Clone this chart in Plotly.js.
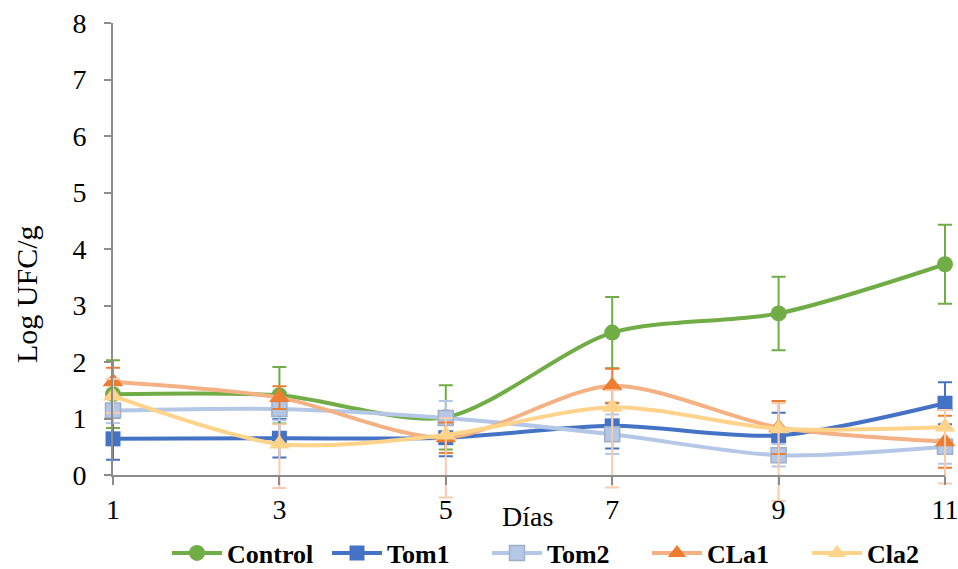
<!DOCTYPE html>
<html>
<head>
<meta charset="utf-8">
<script src="https://cdn.plot.ly/plotly-3.0.1.min.js"></script>
<style>html,body{margin:0;padding:0;background:#fff;}#chart{width:958px;height:569px;}</style>
</head>
<body>
<div id="chart"></div>
<script>
const days = [1, 3, 5, 7, 9, 11];
const xTicks = [1, 3, 5, 7, 9, 11];
const yTicks = [0, 1, 2, 3, 4, 5, 6, 7, 8];

const control = [1.43, 1.41, 1.02, 2.52, 2.86, 3.73];
const controlErr = [0.60, 0.50, 0.57, 0.63, 0.65, 0.70];

const tom1 = [0.64, 0.65, 0.66, 0.87, 0.70, 1.27];
const tom1Err = [0.37, 0.34, 0.33, 0.40, 0.40, 0.37];

const tom2 = [1.14, 1.17, 1.01, 0.72, 0.35, 0.50];
const tom2Err = [0.22, 0.20, 0.30, 0.35, 0.20, 0.30];

const cla1 = [1.65, 1.37, 0.66, 1.58, 0.84, 0.59];
const cla1Err = [0.25, 0.20, 0.27, 0.30, 0.47, 0.46];

const cla2 = [1.40, 0.55, 0.71, 1.20, 0.82, 0.85];
const cla2ErrPlus = [0.30, 0.35, 0.30, 0.30, 0.45, 0.30];
const cla2ErrMinus = [0.30, 0.78, 1.11, 1.42, 1.28, 1.00];

const names = ['Control', 'Tom1', 'Tom2', 'CLa1', 'Cla2'];

function errSym(arr, color) {
  return {type: 'data', array: arr, visible: true, color: color, thickness: 2, width: 7};
}

const traces = [
  // frame subplot holder (transparent) so the axis frame x2/y2 is drawn
  {x: days, y: control, xaxis: 'x2', yaxis: 'y2', mode: 'markers', type: 'scatter',
   marker: {opacity: 0}, showlegend: false, hoverinfo: 'skip'},
  {x: days, y: control, name: names[0], mode: 'lines+markers', type: 'scatter',
   line: {color: '#70AD47', width: 4, shape: 'spline', smoothing: 0.8},
   marker: {symbol: 'circle', size: 16, color: '#70AD47'},
   error_y: errSym(controlErr, '#70AD47'), cliponaxis: false},
  {x: days, y: tom1, name: names[1], mode: 'lines+markers', type: 'scatter',
   line: {color: '#4472C4', width: 4, shape: 'spline', smoothing: 0.8},
   marker: {symbol: 'square', size: 15, color: '#4472C4'},
   error_y: errSym(tom1Err, '#4472C4'), cliponaxis: false},
  {x: days, y: tom2, name: names[2], mode: 'lines+markers', type: 'scatter',
   line: {color: '#B4C7E7', width: 4, shape: 'spline', smoothing: 0.8},
   marker: {symbol: 'square', size: 15, color: '#B4C7E7', line: {color: '#9FAFC8', width: 1.5}},
   error_y: errSym(tom2Err, '#B4C7E7'), cliponaxis: false},
  {x: days, y: cla1, name: names[3], mode: 'lines+markers', type: 'scatter',
   line: {color: '#F4B183', width: 4, shape: 'spline', smoothing: 0.8},
   marker: {symbol: 'triangle-up', size: 18, color: '#ED7D31'},
   error_y: errSym(cla1Err, '#ED7D31'), cliponaxis: false},
  {x: days, y: cla2, name: names[4], mode: 'lines+markers', type: 'scatter',
   line: {color: '#FFD38A', width: 4, shape: 'spline', smoothing: 0.8},
   marker: {symbol: 'triangle-up', size: 18, color: '#FFD38A'},
   error_y: {type: 'data', symmetric: false, array: cla2ErrPlus, arrayminus: cla2ErrMinus,
             visible: true, color: '#F8CBAD', thickness: 2, width: 7}, cliponaxis: false}
];

const serif = 'Liberation Serif';
const FW = 958, FH = 569;
// visible frame (pixels): x=1 -> 113, x=11 -> 945 ; y=0 -> 475, y=8 -> 23
const X0 = 113, X1 = 945, Y0 = 475, Y1 = 23;
const pxX = (X1 - X0) / 10, pxY = (Y0 - Y1) / 8;
const xr = [0.85, 11.15], yr = [-0.6, 8.2];
const dataLeft = X0 - (1 - xr[0]) * pxX, dataRight = X1 + (xr[1] - 11) * pxX;
const dataBottom = Y0 + (0 - yr[0]) * pxY, dataTop = Y1 - (yr[1] - 8) * pxY;

const axisStyle = {
  showgrid: false, zeroline: false, showline: true, linecolor: '#8C8C8C', linewidth: 2,
  ticks: 'outside', tickwidth: 2, tickcolor: '#8C8C8C', ticklabeloverflow: 'allow',
  tickfont: {family: serif, size: 28, color: '#000'}
};

const layout = {
  width: FW, height: FH,
  font: {family: serif, size: 28, color: '#000'},
  margin: {l: 0, r: 0, t: 0, b: 0, pad: 0, autoexpand: false},
  paper_bgcolor: '#ffffff', plot_bgcolor: 'rgba(0,0,0,0)',
  showlegend: true,
  xaxis: {domain: [dataLeft / FW, dataRight / FW], range: xr, visible: false, anchor: 'y'},
  yaxis: {domain: [1 - dataBottom / FH, 1 - dataTop / FH], range: yr, visible: false, anchor: 'x'},
  xaxis2: Object.assign({}, axisStyle, {
    domain: [X0 / FW, X1 / FW], range: [1, 11], anchor: 'y2',
    tickvals: xTicks, ticktext: xTicks.map(String), ticklen: 8, ticklabelstandoff: 0
  }),
  yaxis2: Object.assign({}, axisStyle, {
    domain: [1 - Y0 / FH, 1 - Y1 / FH], range: [0, 8], anchor: 'x2',
    tickvals: yTicks, ticktext: yTicks.map(String), ticklen: 7, ticklabelstandoff: 12
  }),
  legend: {
    orientation: 'h', x: 167 / FW, xanchor: 'left', y: 1 - 553 / FH, yanchor: 'middle',
    font: {family: serif, size: 26, color: '#000', weight: 'bold'},
    bgcolor: 'rgba(0,0,0,0)', itemwidth: 50, entrywidth: 95, entrywidthmode: 'pixels'
  },
  annotations: [
    {text: 'Log UFC/g', xref: 'paper', yref: 'paper', x: 26 / FW, y: 1 - 294 / FH,
     xanchor: 'center', yanchor: 'middle', textangle: -90, showarrow: false,
     font: {family: serif, size: 30, color: '#000'}},
    {text: 'Días', xref: 'paper', yref: 'paper', x: 527 / FW, y: 1 - 516 / FH,
     xanchor: 'center', yanchor: 'middle', showarrow: false,
     font: {family: serif, size: 28, color: '#000'}}
  ]
};

Plotly.newPlot('chart', traces, layout, {displayModeBar: false, staticPlot: true});
</script>
</body>
</html>
